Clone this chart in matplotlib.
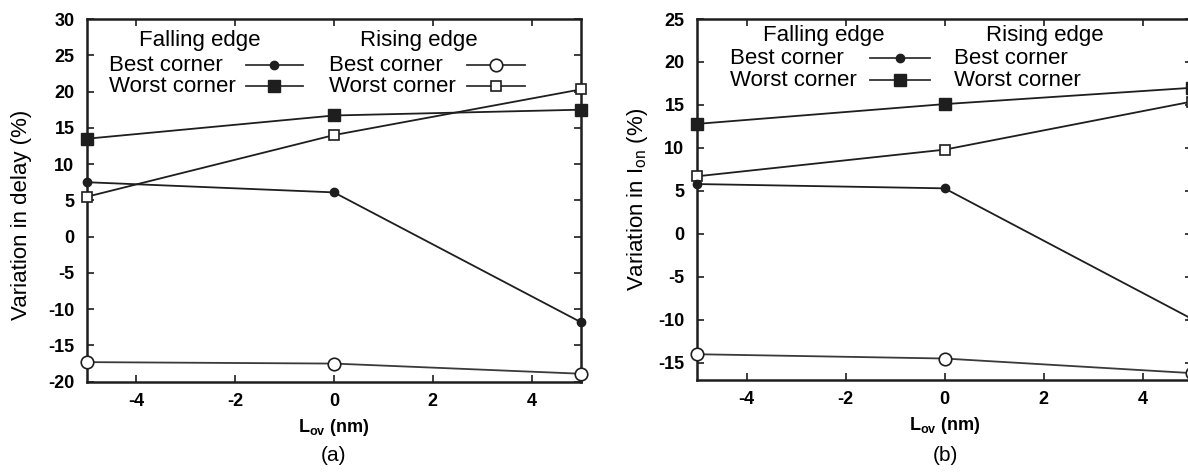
import matplotlib
matplotlib.use("Agg")
import matplotlib.pyplot as plt

plt.rcParams["font.family"] = ["Liberation Sans", "DejaVu Sans"]
plt.rcParams["axes.unicode_minus"] = False
plt.rcParams["mathtext.fontset"] = "custom"
plt.rcParams["mathtext.rm"] = "Liberation Sans"
plt.rcParams["mathtext.it"] = "Liberation Sans"
plt.rcParams["mathtext.bf"] = "Liberation Sans:bold"

# Overlap length (nm)
l_ov = [-5, 0, 5]

# (a) variation in delay (%)
delay_fall_best = [7.5, 6.1, -11.8]
delay_fall_worst = [13.5, 16.7, 17.5]
delay_rise_best = [-17.3, -17.5, -18.9]
delay_rise_worst = [5.5, 14.0, 20.3]

# (b) variation in Ion (%)
ion_fall_best = [5.8, 5.3, -9.9]
ion_fall_worst = [12.8, 15.1, 17.0]
ion_rise_best = [-14.0, -14.5, -16.2]
ion_rise_worst = [6.7, 9.8, 15.4]

x_ticks = [-4, -2, 0, 2, 4]
y_ticks_a = [-20, -15, -10, -5, 0, 5, 10, 15, 20, 25, 30]
y_ticks_b = [-15, -10, -5, 0, 5, 10, 15, 20, 25]

legend_titles = ["Falling edge", "Rising edge"]
legend_labels = ["Best corner", "Worst corner"]

LINE = "#1e1e1e"
styles = {
    "fall_best": dict(marker="o", markersize=6, markerfacecolor=LINE, markeredgecolor=LINE),
    "fall_worst": dict(marker="s", markersize=8, markerfacecolor=LINE, markeredgecolor=LINE),
    "rise_best": dict(marker="o", markersize=9, markerfacecolor="white", markeredgecolor=LINE, markeredgewidth=1.2),
    "rise_worst": dict(marker="s", markersize=7.5, markerfacecolor="white", markeredgecolor=LINE, markeredgewidth=1.2),
}

fig = plt.figure(figsize=(11.88, 4.72), dpi=100)
ax_a = fig.add_axes([0.0732, 0.1913, 0.4158, 0.7684])
ax_b = fig.add_axes([0.5867, 0.1949, 0.4167, 0.7648])

TEXT_FS = 16


def style_axes(ax, yticks, ylim):
    ax.set_xlim(-5, 5)
    ax.set_ylim(*ylim)
    ax.set_xticks(x_ticks)
    ax.set_yticks(yticks)
    ax.tick_params(direction="in", length=5, width=1.2, top=True, right=True,
                   color=LINE, labelsize=13)
    ax.tick_params(axis="y", pad=9)
    ax.tick_params(axis="x", pad=8)
    for lab in ax.get_xticklabels() + ax.get_yticklabels():
        lab.set_fontweight("bold")
    for sp in ax.spines.values():
        sp.set_linewidth(1.8)
        sp.set_color(LINE)
    ax.set_xlabel(r"$\mathbf{L}_{\mathbf{ov}}$ (nm)", fontsize=13, fontweight="bold",
                  labelpad=5)


def draw(ax, fb, fw, rb, rw):
    ax.plot(l_ov, fw, color=LINE, lw=1.3, clip_on=False, zorder=3, **styles["fall_worst"])
    ax.plot(l_ov, rw, color=LINE, lw=1.3, clip_on=False, zorder=3, **styles["rise_worst"])
    ax.plot(l_ov, fb, color=LINE, lw=1.3, clip_on=False, zorder=3, **styles["fall_best"])
    ax.plot(l_ov, rb, color="#3a3a3a", lw=1.3, clip_on=False, zorder=3, **styles["rise_best"])


def legend_block(ax, title, title_x, text_x, rows_y, title_y, sample_x, keys):
    tr = ax.transAxes
    ax.text(title_x, title_y, title, transform=tr, ha="center", va="center",
            fontsize=TEXT_FS)
    for label, y, key in zip(legend_labels, rows_y, keys):
        ax.text(text_x, y, label, transform=tr, ha="left", va="center",
                fontsize=TEXT_FS)
        if key is not None:
            ax.plot(sample_x, [y, y], transform=tr, color="#333333", lw=1.3)
            ax.plot([sum(sample_x) / 2], [y], transform=tr, linestyle="none",
                    **styles[key])


draw(ax_a, delay_fall_best, delay_fall_worst, delay_rise_best, delay_rise_worst)
style_axes(ax_a, y_ticks_a, (-20, 30))
ax_a.set_ylabel("Variation in delay (%)", fontsize=TEXT_FS)
ax_a.yaxis.set_label_coords(-0.112, 0.46)
legend_block(ax_a, legend_titles[0], 0.229, 0.045, [0.873, 0.815], 0.942,
             [0.322, 0.437], ["fall_best", "fall_worst"])
legend_block(ax_a, legend_titles[1], 0.672, 0.49, [0.873, 0.815], 0.942,
             [0.769, 0.887], ["rise_best", "rise_worst"])

draw(ax_b, ion_fall_best, ion_fall_worst, ion_rise_best, ion_rise_worst)
style_axes(ax_b, y_ticks_b, (-17, 25))
ax_b.set_ylabel(r"Variation in I$_{\mathrm{on}}$ (%)", fontsize=TEXT_FS, labelpad=6)
legend_block(ax_b, legend_titles[0], 0.256, 0.067, [0.892, 0.831], 0.955,
             [0.35, 0.47], ["fall_best", "fall_worst"])
legend_block(ax_b, legend_titles[1], 0.703, 0.52, [0.892, 0.831], 0.955,
             [0.0, 0.0], [None, None])

fig.text(0.2811, 0.034, "(a)", ha="center", va="center", fontsize=15)
fig.text(0.7955, 0.034, "(b)", ha="center", va="center", fontsize=15)

fig.savefig("out.png", dpi=100, facecolor="white")
